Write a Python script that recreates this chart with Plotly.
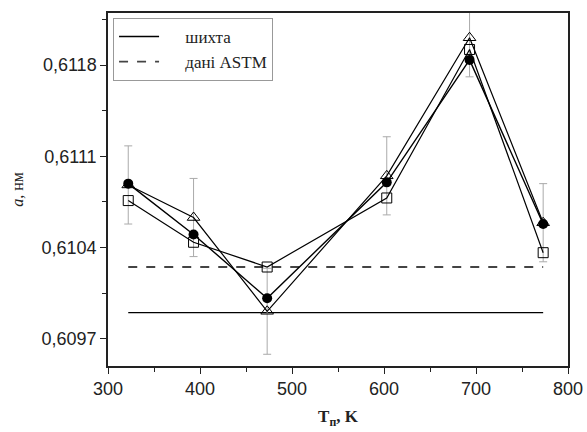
import plotly.graph_objects as go

T = [322, 393, 473, 603, 693, 773]
a_circle = [0.61089, 0.61050, 0.61001, 0.61090, 0.61184, 0.61058]
a_triangle = [0.61088, 0.61063, 0.60991, 0.61095, 0.61201, 0.61059]
a_square = [0.61076, 0.61044, 0.61025, 0.61078, 0.61192, 0.61036]
err_triangle = [0.00030, 0.00030, 0.00033, 0.00030, 0.00030, 0.00030]

line_x = [322, 773]
shihta = [0.60990, 0.60990]
astm = [0.61025, 0.61025]

pad = "\u00a0" * 5

fig = go.Figure()

fig.add_trace(go.Scatter(x=line_x, y=shihta, mode="lines", name=pad + "шихта",
                         line=dict(color="black", width=1.3)))
fig.add_trace(go.Scatter(x=line_x, y=astm, mode="lines", name=pad + "дані ASTM",
                         line=dict(color="#444", width=1.8, dash="dash")))

fig.add_trace(go.Scatter(x=T, y=a_triangle, mode="lines+markers", showlegend=False,
                         line=dict(color="black", width=1.2),
                         marker=dict(symbol="triangle-up-open", size=11, color="black", line=dict(width=1)),
                         error_y=dict(type="data", array=err_triangle, color="#aaaaaa", thickness=1, width=4)))
fig.add_trace(go.Scatter(x=T, y=a_square, mode="lines+markers", showlegend=False,
                         line=dict(color="black", width=1.2),
                         marker=dict(symbol="square-open", size=10, color="black", line=dict(width=1))))
fig.add_trace(go.Scatter(x=T, y=a_circle, mode="lines+markers", showlegend=False,
                         line=dict(color="black", width=1.4),
                         marker=dict(symbol="circle", size=10, color="black")))

fig.update_layout(
    width=587, height=432,
    margin=dict(l=108, r=19, t=13, b=66, autoexpand=False),
    plot_bgcolor="white", paper_bgcolor="white",
    separators=",.",
    font=dict(family="Liberation Sans, Arial", size=18, color="#222"),
    legend=dict(x=0.011, y=0.986, xanchor="left", yanchor="top",
                bordercolor="#999", borderwidth=1, bgcolor="white",
                font=dict(family="Liberation Serif, Times New Roman", size=17, color="#222"),
                tracegroupgap=0, itemwidth=40),
    showlegend=True,
)

fig.update_xaxes(range=[300, 800], tick0=300, dtick=100, ticklabeloverflow="allow", automargin=False,
                 showline=True, linecolor="#222", linewidth=1.5, mirror=True,
                 ticks="outside", ticklen=6, tickcolor="#222", showgrid=False, zeroline=False,
                 minor=dict(ticks="outside", dtick=50, ticklen=4, tickcolor="#222"),
                 title=dict(text="<b>T<sub>п</sub>, K</b>", standoff=12,
                            font=dict(family="Liberation Serif, Times New Roman", size=17, color="#222")))
fig.update_yaxes(range=[0.60949, 0.6122], tick0=0.6097, dtick=0.0007, tickformat=".4f", automargin=False,
                 showline=True, linecolor="#222", linewidth=1.5, mirror=True,
                 ticks="outside", ticklen=6, tickcolor="#222", showgrid=False, zeroline=False,
                 minor=dict(ticks="outside", dtick=0.00035, ticklen=4, tickcolor="#222"),
                 title=dict(text="<i>a</i>, нм", standoff=14,
                            font=dict(family="Liberation Serif, Times New Roman", size=16, color="#222")))

post = ("document.body.style.margin='0';document.body.style.overflow='hidden';"
        "var gd=document.getElementById('{plot_id}');"
        "Plotly.relayout(gd,{width:587,height:432});")

fig.write_html("out.html", config={"displayModeBar": False, "responsive": False},
               post_script=post)
